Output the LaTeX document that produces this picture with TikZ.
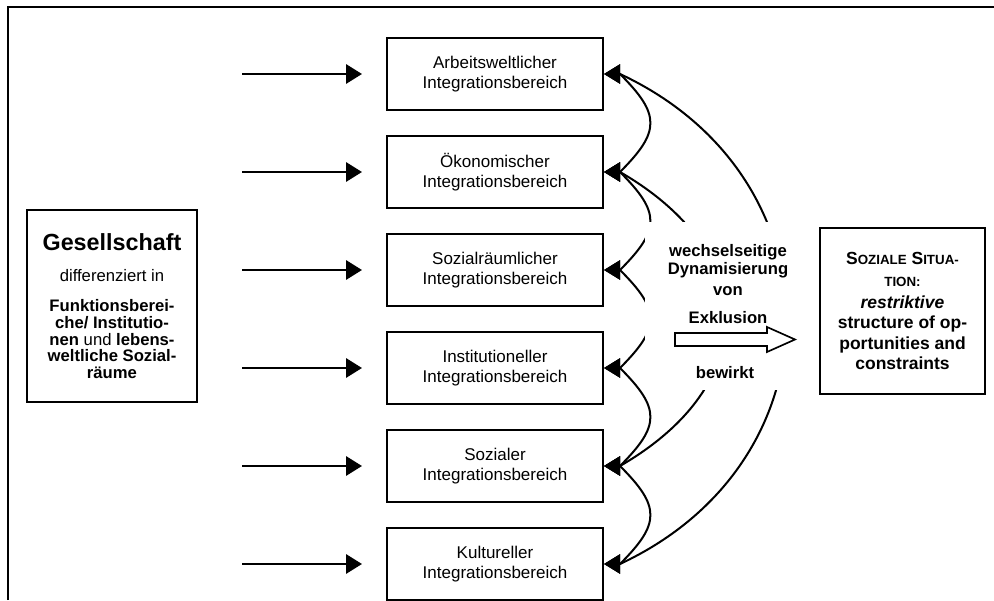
\documentclass[tikz,border=0pt]{standalone}
\usepackage{fontspec}
\setmainfont{Liberation Sans}
\usetikzlibrary{arrows.meta,positioning}
\tikzset{
  basic/.style   = {draw, line width=1.2pt, align=center, inner sep=0pt},
  bereich/.style = {basic, minimum width=129.6pt, minimum height=43.2pt,
                    font=\fontsize{10.2}{12}\selectfont},
  gesell/.style  = {basic, minimum width=102pt, minimum height=115.2pt,
                    font=\fontsize{10}{10}\selectfont},
  lage/.style    = {basic, minimum width=99pt, minimum height=99.6pt,
                    font=\fontsize{10.5}{12.2}\selectfont\bfseries},
  cover/.style   = {fill=white, inner sep=0pt, minimum width=100.2pt,
                    minimum height=100.8pt},
  wort/.style    = {align=center, inner sep=0pt,
                    font=\fontsize{10}{10.8}\selectfont\bfseries}
}
\newcommand{\kap}[1]{{\fontsize{8}{9}\selectfont #1}}

\begin{document}
\begin{tikzpicture}[x=0.6pt, y=0.6pt,
  >={Triangle[length=9.6pt,width=11.5pt]}]
\useasboundingbox (0,0) rectangle (994,600);

% outer frame
\draw[line width=1.2pt] (8,0) -- (8,593) -- (994,593);

% the society box on the left
\node[gesell] (ges) at (112,294) {{\fontsize{14}{16}\selectfont\bfseries Gesellschaft}\\[9pt]
  differenziert in\\[8pt]
  \textbf{Funktionsberei-}\\ \textbf{che/ Institutio-}\\
  \textbf{nen} und \textbf{lebens-}\\ \textbf{weltliche Sozial-}\\ \textbf{räume}};

% the six areas of integration, stacked
\begin{scope}[every node/.style={bereich}]
\node (i1) at (495,526) {Arbeitsweltlicher\\Integrationsbereich};
\node [below=14.4pt of i1] (i2) {Ökonomischer\\Integrationsbereich};
\node [below=14.4pt of i2] (i3) {Sozialräumlicher\\Integrationsbereich};
\node [below=14.4pt of i3] (i4) {Institutioneller\\Integrationsbereich};
\node [below=14.4pt of i4] (i5) {Sozialer\\Integrationsbereich};
\node [below=14.4pt of i5] (i6) {Kultureller\\Integrationsbereich};
\end{scope}

% arrows coming in from the left, and points just right of each area
\foreach \i in {1,...,6} {
  \coordinate [left=86.4pt of i\i] (s\i);
  \coordinate [right=9.6pt of i\i] (r\i);
  \draw[->, line width=1.6pt, shorten >=14.4pt] (s\i) -- (i\i);
}

% mutual links between the areas
\begin{scope}[line width=1.2pt]
\foreach \i/\j in {1/2,2/3,3/4,4/5,5/6}
  \draw[<->] (i\i) -- (r\i) to[out=-45,in=45,looseness=1.5] (r\j) -- (i\j);
\draw[<->] (i2) -- (r2) to[out=-30,in=30,looseness=1.42] (r5) -- (i5);
\draw[<->] (i1) -- (r1) to[out=-25,in=25,looseness=1.28] (r6) -- (i6);
\end{scope}

% text block in the middle
\node[cover] (dyn) at (728.5,294) {};
\node[wort] (wdv) at (728,330) {wechselseitige\\Dynamisierung\\[1.5pt]von};
\node[wort] (exk) at (728,282) {Exklusion};
\node[wort] (bew) at (725,227) {bewirkt};
\draw[line width=1pt, fill=white] (675,267) -- (767,267) -- (767,273) -- (795,260.5)
  -- (767,248) -- (767,254) -- (675,254) -- cycle;

% the social situation on the right
\node[lage] (sit) at (902.5,289) {S\kap{OZIALE} S\kap{ITUA-}\\[1pt]
  \kap{TION:}\\[1pt]
  \textit{restriktive}\\ structure of op-\\ portunities and\\ constraints};

\end{tikzpicture}
\end{document}
